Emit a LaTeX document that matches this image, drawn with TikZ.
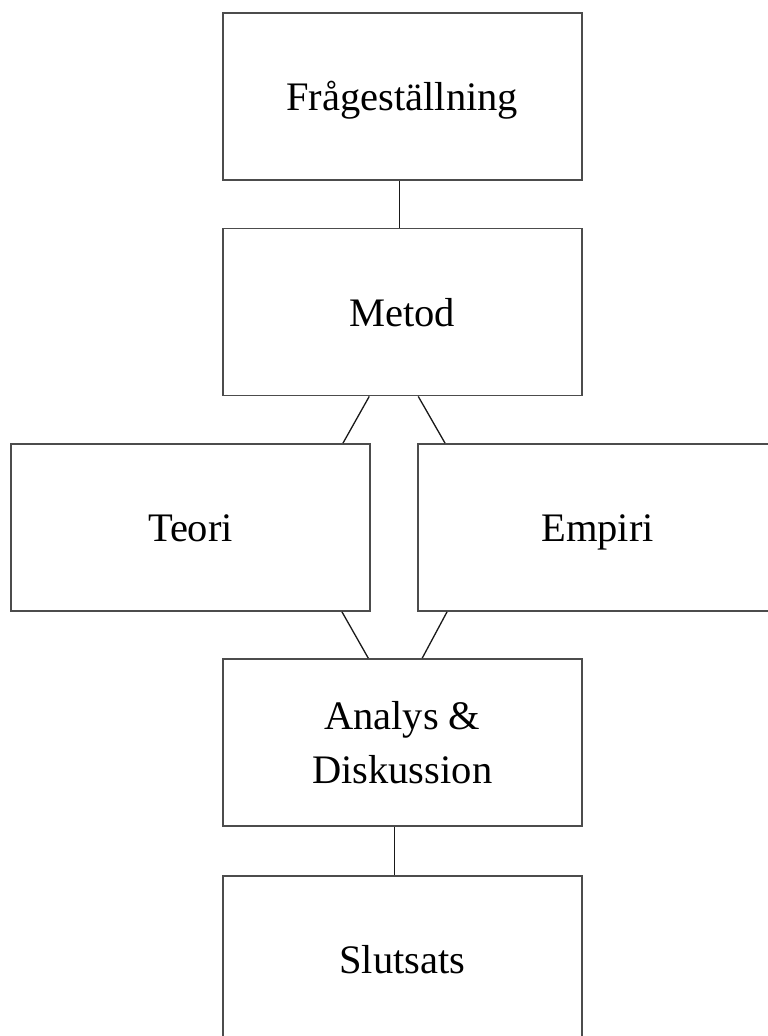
\documentclass[tikz,border=0pt]{standalone}
\usepackage{fontspec}
\setmainfont{Liberation Serif}
\newcommand{\mystrut}{\rule[-9pt]{0pt}{46pt}}
\begin{document}
\begin{tikzpicture}[x=1pt,y=-1pt,
  boxnode/.style={draw=black!70,line width=1.8pt,rectangle,minimum width=359pt,minimum height=167pt,inner sep=0pt,align=center,font=\fontsize{40.5}{54}\selectfont},
  conn/.style={draw=black!90,line width=1.3pt}]
\useasboundingbox (0,0) rectangle (768,1036);
\clip (0,0) rectangle (768,1036);
\node[boxnode] (F) at (402.25,96.5) {\mystrut Frågeställning};
\node[boxnode] (M) at (402.25,312) {\mystrut Metod};
\node[boxnode] (T) at (190.5,527.5) {\mystrut Teori};
\node[boxnode] (E) at (597.5,527.5) {\mystrut Empiri};
\node[boxnode] (A) at (402.25,742.5) {\mystrut Analys \&\\\mystrut Diskussion};
\node[boxnode] (S) at (402.25,959.5) {\mystrut Slutsats};
\draw[conn] ([xshift=-3pt]F.south) -- ([xshift=-3pt]M.north);
\draw[conn] ([xshift=-33pt]M.south) -- ([xshift=152.5pt]T.north);
\draw[conn] ([xshift=16pt]M.south) -- ([xshift=-152.5pt]E.north);
\draw[conn] ([xshift=151.5pt]T.south) -- ([xshift=-34pt]A.north);
\draw[conn] ([xshift=-150.5pt]E.south) -- ([xshift=20pt]A.north);
\draw[conn] ([xshift=-8pt]A.south) -- ([xshift=-8pt]S.north);
\end{tikzpicture}
\end{document}
